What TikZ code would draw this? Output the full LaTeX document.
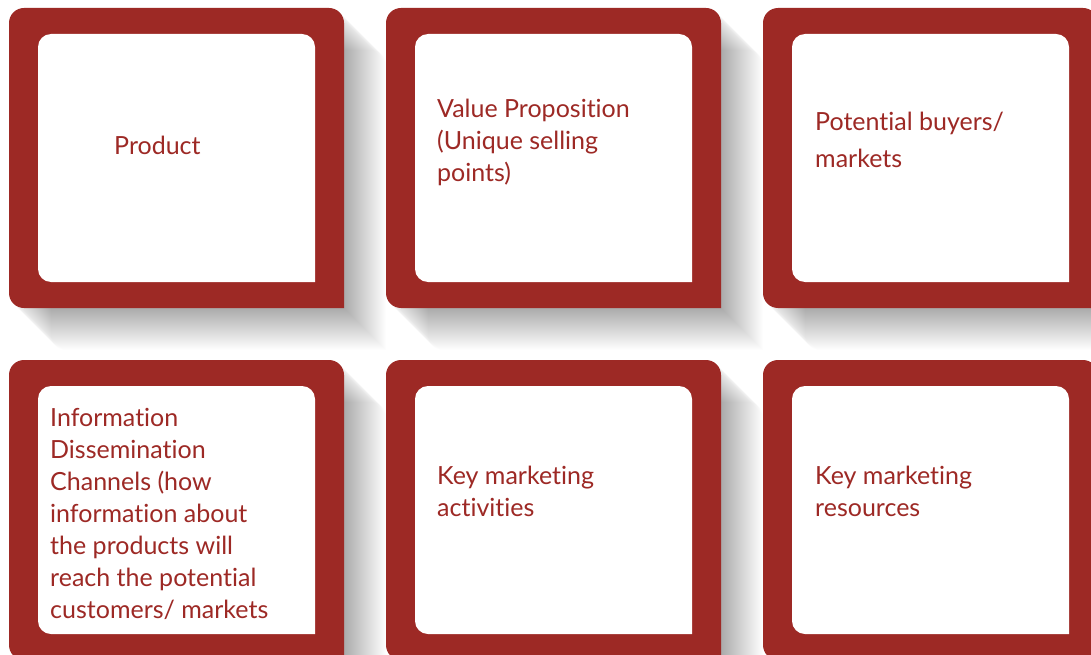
\documentclass[tikz,border=0pt]{standalone}
\usepackage{fontspec}
\setmainfont{Lato}[Ligatures=NoCommon]
\definecolor{tilered}{RGB}{157,41,37}
\begin{document}
\begin{tikzpicture}[x=1pt,y=1pt,
  tiletext/.style={anchor=base west, inner sep=0pt, text=tilered,
    font=\fontsize{25}{32}\selectfont},
  tile/.pic={
    % soft shadow cast towards the lower right
    \foreach \k in {1,...,42}{
      \begin{scope}[shift={(\k,-\k)}]
        \fill[black,fill opacity=0.009] (335,-300) -- (335,-15)
          arc[start angle=0,end angle=90,radius=15] -- (15,0)
          arc[start angle=90,end angle=180,radius=15] -- (0,-285)
          arc[start angle=180,end angle=270,radius=15] -- cycle;
      \end{scope}
    }
    % red frame
    \fill[tilered] (335,-300) -- (335,-15)
      arc[start angle=0,end angle=90,radius=15] -- (15,0)
      arc[start angle=90,end angle=180,radius=15] -- (0,-285)
      arc[start angle=180,end angle=270,radius=15] -- cycle;
    % white panel
    \fill[white] (306,-274) -- (306,-39)
      arc[start angle=0,end angle=90,radius=13] -- (42,-26)
      arc[start angle=90,end angle=180,radius=13] -- (29,-261)
      arc[start angle=180,end angle=270,radius=13] -- cycle;
  }]
\useasboundingbox (0,0) rectangle (1091,-655);
\clip (0,0) rectangle (1091,-655);
\fill[white] (0,0) rectangle (1091,-655);

\pic (t1) at (9,-8) {tile};
\pic (t2) at (386,-8) {tile};
\pic (t3) at (763,-8) {tile};
\pic (t4) at (9,-360) {tile};
\pic (t5) at (386,-360) {tile};
\pic (t6) at (763,-360) {tile};

\node[tiletext] (product) at (114,-155) {Product};
\node[tiletext] (value) at (437,-118)
  {\vtop{\hbox{Value Proposition}\hbox{(Unique selling}\hbox{points)}}};
\node[tiletext, font=\fontsize{25}{37}\selectfont] (buyers) at (815,-131)
  {\vtop{\hbox{Potential buyers/}\hbox{markets}}};
\node[tiletext] (channels) at (50,-426)
  {\vtop{\hbox{Information}\hbox{Dissemination}\hbox{Channels (how}
    \hbox{information about}\hbox{the products will}
    \hbox{reach the potential}\hbox{customers/ markets}}};
\node[tiletext] (activities) at (437,-484)
  {\vtop{\hbox{Key marketing}\hbox{activities}}};
\node[tiletext] (resources) at (815,-484)
  {\vtop{\hbox{Key marketing}\hbox{resources}}};
\end{tikzpicture}
\end{document}
